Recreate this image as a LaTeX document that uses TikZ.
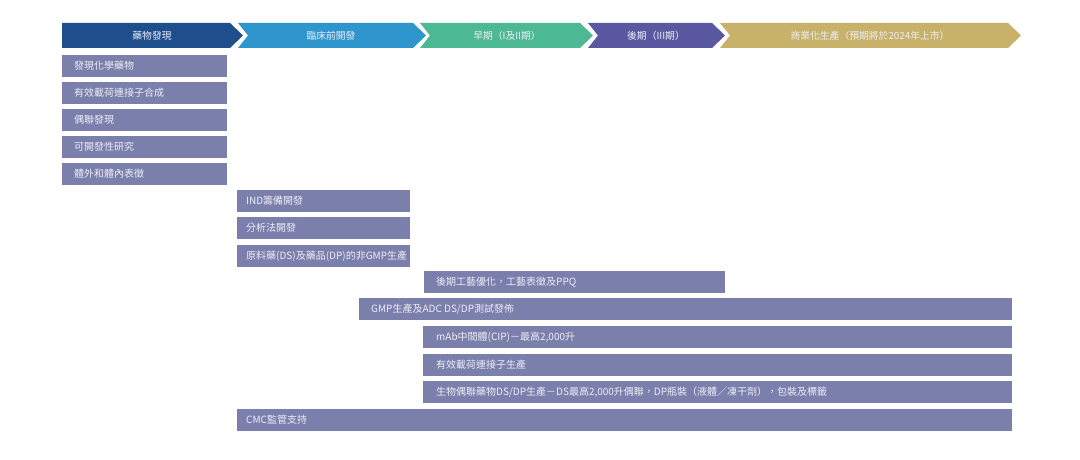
\documentclass[tikz,border=0pt]{standalone}
\usepackage{fontspec}
\setmainfont{Noto Sans CJK TC}

\definecolor{phaseA}{RGB}{30,78,140}
\definecolor{phaseB}{RGB}{46,150,205}
\definecolor{phaseC}{RGB}{76,185,148}
\definecolor{phaseD}{RGB}{90,88,160}
\definecolor{phaseE}{RGB}{200,178,105}
\definecolor{barfill}{RGB}{122,127,172}
\definecolor{bartext}{RGB}{238,238,246}

\begin{document}
\begin{tikzpicture}[x=1pt,y=-1pt]
    \tikzset{
        phase/.style={font=\fontsize{9.8}{11}\selectfont, text=bartext, inner sep=0pt},
        task/.style={anchor=west, font=\fontsize{10}{11}\selectfont, text=bartext, inner sep=0pt}
    }
    \useasboundingbox[fill=white] (0,0) rectangle (1080,460);

    % phase arrows
    \fill[phaseA] (62,23) -- (230,23) -- (243,35.5) -- (230,48) -- (62,48) -- cycle;
    \foreach \xa/\xb/\col in {%
        238/413/phaseB, 420/580/phaseC, 588/712/phaseD, 720/1008/phaseE%
    }{
        \fill[\col] (\xa,23) -- (\xb,23) -- (\xb+13,35.5) -- (\xb,48) -- (\xa,48) -- (\xa+10,35.5) -- cycle;
    }
    \draw node[phase] (p1) at (152,35.5) {藥物發現};
    \draw node[phase] (p2) at (331,35.5) {臨床前開發};
    \draw node[phase] (p3) at (507,35.5) {早期（I及II期）};
    \draw node[phase] (p4) at (656,35.5) {後期（III期）};
    \draw node[phase] (p5) at (870,35.5) {商業化生產（預期將於2024年上市）};

    % task bars
    \foreach \xa/\xb/\yt in {%
        62/227/55, 62/227/82, 62/227/109, 62/227/136, 62/227/163,
        237/410/190, 237/410/217, 237/410/245,
        424/725/271, 359/1012/298, 423/1012/326, 423/1012/354, 423/1012/381,
        237/1012/409%
    }{
        \fill[barfill] (\xa,\yt) rectangle (\xb,\yt+22);
    }
    \draw node[task] (t1) at (74,66) {發現化學藥物};
    \draw node[task] (t2) at (74,93) {有效載荷連接子合成};
    \draw node[task] (t3) at (74,120) {偶聯發現};
    \draw node[task] (t4) at (74,147) {可開發性研究};
    \draw node[task] (t5) at (74,174) {體外和體內表徵};
    \draw node[task] (t6) at (246,201) {IND籌備開發};
    \draw node[task] (t7) at (246,228) {分析法開發};
    \draw node[task] (t8) at (246,256) {原料藥(DS)及藥品(DP)的非GMP生產};
    \draw node[task] (t9) at (436,282) {後期工藝優化，工藝表徵及PPQ};
    \draw node[task] (t10) at (371,309) {GMP生產及ADC DS/DP測試發佈};
    \draw node[task] (t11) at (436,337) {mAb中間體(CIP)－最高2,000升};
    \draw node[task] (t12) at (436,365) {有效載荷連接子生產};
    \draw node[task] (t13) at (436,392) {生物偶聯藥物DS/DP生產－DS最高2,000升偶聯，DP瓶裝（液體／凍干劑），包裝及標籤};
    \draw node[task] (t14) at (246,420) {CMC監管支持};

\end{tikzpicture}
\end{document}
